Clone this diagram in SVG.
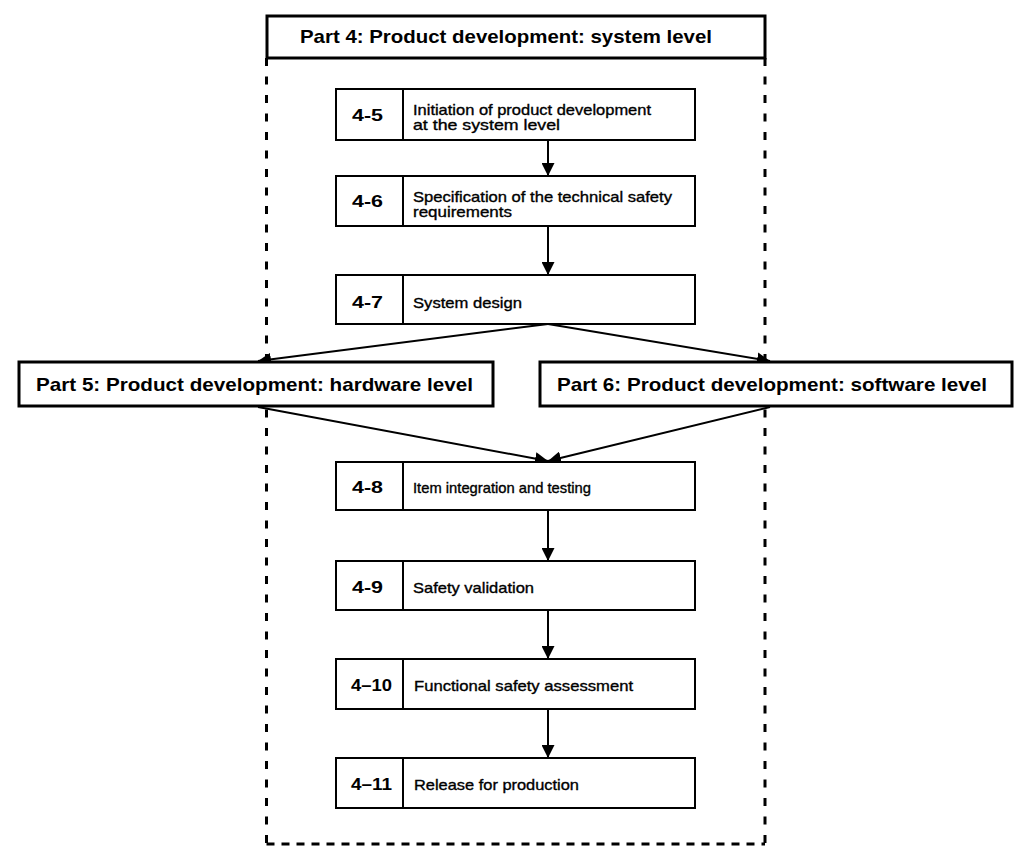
<svg xmlns="http://www.w3.org/2000/svg" width="1028" height="864" viewBox="0 0 1028 864">
<style>
  .bg{fill:#ffffff}
  .dash{fill:none;stroke:#000;stroke-width:3}
  .part{fill:#fff;stroke:#000;stroke-width:3}
  .box{fill:#fff;stroke:#000;stroke-width:2}
  .div{stroke:#000;stroke-width:2}
  .conn{fill:none;stroke:#000;stroke-width:2}
  .ptitle{font-family:"Liberation Sans",Arial,sans-serif;font-weight:bold;font-size:19px;fill:#000}
  .num{font-family:"Liberation Sans",Arial,sans-serif;font-weight:bold;font-size:17px;fill:#000}
  .lbl{font-family:"Liberation Sans",Arial,sans-serif;font-size:15px;fill:#000;stroke:#000;stroke-width:0.35}
</style>
<defs>
  <marker id="arr" markerUnits="userSpaceOnUse" markerWidth="13" markerHeight="13" refX="13" refY="6.5" orient="auto">
    <path d="M0,0 L13,6.5 L0,13 z" fill="#000"/>
  </marker>
</defs>
<rect class="bg" x="0" y="0" width="1028" height="864"/>

<g id="boundary">
  <line class="dash" x1="266.5" y1="58" x2="266.5" y2="844" stroke-dasharray="8 10.5"/>
  <line class="dash" x1="765" y1="58" x2="765" y2="844" stroke-dasharray="8 10.5"/>
  <line class="dash" x1="266.5" y1="844" x2="765" y2="844" stroke-dasharray="8 7"/>
</g>

<g id="connectors">
  <line class="conn" x1="548" y1="140" x2="548" y2="176" marker-end="url(#arr)"/>
  <line class="conn" x1="548" y1="226" x2="548" y2="275" marker-end="url(#arr)"/>
  <line class="conn" x1="548" y1="324" x2="258" y2="361" marker-end="url(#arr)"/>
  <line class="conn" x1="548" y1="324" x2="770" y2="361" marker-end="url(#arr)"/>
  <line class="conn" x1="258" y1="407" x2="548" y2="461" marker-end="url(#arr)"/>
  <line class="conn" x1="770" y1="407" x2="548" y2="461" marker-end="url(#arr)"/>
  <line class="conn" x1="548" y1="510" x2="548" y2="561" marker-end="url(#arr)"/>
  <line class="conn" x1="548" y1="610" x2="548" y2="659" marker-end="url(#arr)"/>
  <line class="conn" x1="548" y1="709" x2="548" y2="758" marker-end="url(#arr)"/>
</g>

<g id="part4">
  <rect class="part" x="267" y="16" width="498" height="42"/>
  <text class="ptitle" x="300" y="43" textLength="412" lengthAdjust="spacingAndGlyphs">Part 4: Product development: system level</text>
</g>

<g id="part5">
  <rect class="part" x="19" y="362" width="474" height="44"/>
  <text class="ptitle" x="36" y="391" textLength="437" lengthAdjust="spacingAndGlyphs">Part 5: Product development: hardware level</text>
</g>

<g id="part6">
  <rect class="part" x="540" y="362" width="472" height="44"/>
  <text class="ptitle" x="557" y="391" textLength="430" lengthAdjust="spacingAndGlyphs">Part 6: Product development: software level</text>
</g>

<g id="n4-5">
  <rect class="box" x="336" y="89" width="359" height="51"/>
  <line class="div" x1="403" y1="89" x2="403" y2="140"/>
  <text class="num" x="352" y="121" textLength="31" lengthAdjust="spacingAndGlyphs">4-5</text>
  <text class="lbl" x="413" y="115" textLength="238" lengthAdjust="spacingAndGlyphs">Initiation of product development</text>
  <text class="lbl" x="413" y="130" textLength="147" lengthAdjust="spacingAndGlyphs">at the system level</text>
</g>

<g id="n4-6">
  <rect class="box" x="336" y="176" width="359" height="50"/>
  <line class="div" x1="403" y1="176" x2="403" y2="226"/>
  <text class="num" x="352" y="207" textLength="31" lengthAdjust="spacingAndGlyphs">4-6</text>
  <text class="lbl" x="413" y="202" textLength="259" lengthAdjust="spacingAndGlyphs">Specification of the technical safety</text>
  <text class="lbl" x="413" y="217" textLength="99" lengthAdjust="spacingAndGlyphs">requirements</text>
</g>

<g id="n4-7">
  <rect class="box" x="336" y="275" width="359" height="49"/>
  <line class="div" x1="403" y1="275" x2="403" y2="324"/>
  <text class="num" x="352" y="308" textLength="31" lengthAdjust="spacingAndGlyphs">4-7</text>
  <text class="lbl" x="413" y="308" textLength="109" lengthAdjust="spacingAndGlyphs">System design</text>
</g>

<g id="n4-8">
  <rect class="box" x="336" y="462" width="359" height="48"/>
  <line class="div" x1="403" y1="462" x2="403" y2="510"/>
  <text class="num" x="352" y="493" textLength="31" lengthAdjust="spacingAndGlyphs">4-8</text>
  <text class="lbl" x="413" y="493" textLength="178" lengthAdjust="spacingAndGlyphs">Item integration and testing</text>
</g>

<g id="n4-9">
  <rect class="box" x="336" y="561" width="359" height="49"/>
  <line class="div" x1="403" y1="561" x2="403" y2="610"/>
  <text class="num" x="352" y="593" textLength="31" lengthAdjust="spacingAndGlyphs">4-9</text>
  <text class="lbl" x="413" y="593" textLength="121" lengthAdjust="spacingAndGlyphs">Safety validation</text>
</g>

<g id="n4-10">
  <rect class="box" x="336" y="659" width="359" height="50"/>
  <line class="div" x1="403" y1="659" x2="403" y2="709"/>
  <text class="num" x="351" y="691" textLength="41" lengthAdjust="spacingAndGlyphs">4–10</text>
  <text class="lbl" x="414" y="691" textLength="219" lengthAdjust="spacingAndGlyphs">Functional safety assessment</text>
</g>

<g id="n4-11">
  <rect class="box" x="336" y="758" width="359" height="50"/>
  <line class="div" x1="403" y1="758" x2="403" y2="808"/>
  <text class="num" x="351" y="790" textLength="41" lengthAdjust="spacingAndGlyphs">4–11</text>
  <text class="lbl" x="414" y="790" textLength="165" lengthAdjust="spacingAndGlyphs">Release for production</text>
</g>
</svg>
